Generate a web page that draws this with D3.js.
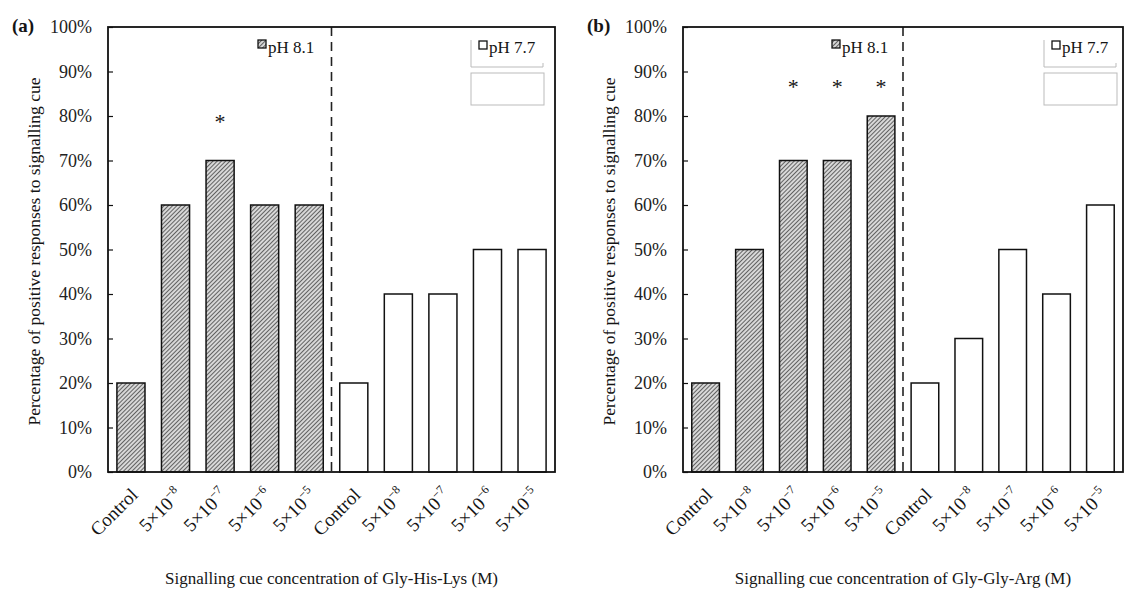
<!DOCTYPE html>
<html><head><meta charset="utf-8">
<script src="https://cdn.jsdelivr.net/npm/d3@7"></script>
<style>body{margin:0;background:#fff}svg{display:block}</style>
</head><body><svg id="c" width="1126" height="595"></svg>
<script>
const concLabels = ["Control", "-8", "-7", "-6", "-5"];
const groups = ["pH 8.1", "pH 7.7"];
const yTicks = [0,10,20,30,40,50,60,70,80,90,100];
const panelA_ph81 = [20, 60, 70, 60, 60];
const panelA_ph77 = [20, 40, 40, 50, 50];
const panelB_ph81 = [20, 50, 70, 70, 80];
const panelB_ph77 = [20, 30, 50, 40, 60];
const panelA_stars = [2];
const panelB_stars = [2, 3, 4];
const panelA_title = "Signalling cue concentration of Gly-His-Lys (M)";
const panelB_title = "Signalling cue concentration of Gly-Gly-Arg (M)";
const yTitle = "Percentage of positive responses to signalling cue";
const FONT = "'Liberation Serif', 'Times New Roman', 'DejaVu Serif', serif";

const svg = d3.select("#c").attr("font-family", FONT);
const defs = svg.append("defs");
const pat = defs.append("pattern").attr("id","hatch").attr("patternUnits","userSpaceOnUse")
  .attr("width",3).attr("height",3).attr("patternTransform","rotate(45)");
pat.append("rect").attr("width",3).attr("height",3).attr("fill","#d8d8d8");
pat.append("line").attr("x1",0).attr("y1",0).attr("x2",0).attr("y2",3).attr("stroke","#222").attr("stroke-width",1.3);

function txt(sel){ return sel.append("text").attr("font-family",FONT).attr("fill","#151515"); }

function panel(opt){
  const {left,right,top,bottom,v81,v77,stars,starY,title,label,legendA,legendB} = opt;
  const g = svg.append("g");
  const cats = [];
  groups.forEach((gr,gi)=>concLabels.forEach((c,ci)=>cats.push(gi+"_"+ci)));
  const vals = v81.concat(v77);
  const x = d3.scaleBand().domain(cats).range([left,right]).paddingInner(0.37).paddingOuter(0.2);
  const y = d3.scaleLinear().domain([0,100]).range([bottom,top]);

  g.selectAll("rect.bar").data(cats).join("rect")
    .attr("x",d=>x(d)).attr("width",x.bandwidth())
    .attr("y",(d,i)=>y(vals[i])).attr("height",(d,i)=>y(0)-y(vals[i]))
    .attr("fill",d=>d.startsWith("0")?"url(#hatch)":"#fff")
    .attr("stroke","#111").attr("stroke-width",1.5);

  const mid = (x(cats[4])+x.bandwidth() + x(cats[5]))/2;
  g.append("line").attr("x1",mid).attr("x2",mid).attr("y1",top).attr("y2",bottom)
    .attr("stroke","#222").attr("stroke-width",1.6).attr("stroke-dasharray","9,6");

  const ya = d3.axisLeft(y).tickValues(yTicks).tickSize(-5).tickPadding(16).tickFormat(d=>d+"%");
  const yg = g.append("g").attr("transform",`translate(${left},0)`).call(ya).attr("font-family",FONT).attr("font-size",18);
  yg.select(".domain").remove();
  yg.selectAll(".tick line").attr("stroke","#111").attr("stroke-width",1.2);
  yg.selectAll(".tick text").attr("fill","#222");

  g.append("rect").attr("x",left).attr("y",top).attr("width",right-left).attr("height",bottom-top)
    .attr("fill","none").attr("stroke","#111").attr("stroke-width",1.8);

  cats.forEach((d,i)=>{
    const ci = i%5;
    const cx = x(d)+x.bandwidth()/2+8;
    const t = txt(g).attr("text-anchor","end").attr("font-size",19)
      .attr("transform",`translate(${cx},${bottom+24}) rotate(-45)`);
    if(concLabels[ci]==="Control"){ t.text("Control"); }
    else {
      t.append("tspan").text("5×10");
      t.append("tspan").text("−"+concLabels[ci].slice(1)).attr("font-size",12).attr("dy",-8);
    }
  });

  stars.forEach(si=>{
    txt(g).attr("x",x(cats[si])+x.bandwidth()/2).attr("y",y(starY)).attr("text-anchor","middle")
      .attr("font-size",22).text("*");
  });

  txt(g).attr("x",(left+right)/2).attr("y",584).attr("text-anchor","middle").attr("font-size",17).text(title);
  txt(g).attr("transform",`translate(${left-68},${(top+bottom)/2+2}) rotate(-90)`).attr("text-anchor","middle").attr("font-size",17.5).text(yTitle);
  txt(g).attr("x",left-96).attr("y",top+5).attr("font-size",19).attr("font-weight","bold").text(label);

  g.append("rect").attr("x",legendA).attr("y",top+13).attr("width",8).attr("height",8)
    .attr("fill","url(#hatch)").attr("stroke","#111").attr("stroke-width",1.3);
  txt(g).attr("x",legendA+10).attr("y",top+26).attr("font-size",17).text(groups[0]);
  const lb = legendB;
  g.append("path").attr("d",`M${lb-8},${top+13} V${top+40} H${lb+64} V${top+36}`).attr("fill","none").attr("stroke","#bbb").attr("stroke-width",1);
  g.append("rect").attr("x",lb-8).attr("y",top+46).attr("width",73).attr("height",32).attr("fill","none").attr("stroke","#bbb").attr("stroke-width",1);
  g.append("rect").attr("x",lb).attr("y",top+14).attr("width",8).attr("height",8)
    .attr("fill","#fff").attr("stroke","#111").attr("stroke-width",1.3);
  txt(g).attr("x",lb+10).attr("y",top+26).attr("font-size",17).text(groups[1]);
}

panel({left:108,right:555,top:27,bottom:472,v81:panelA_ph81,v77:panelA_ph77,stars:panelA_stars,starY:77,
  title:panelA_title,label:"(a)",legendA:258,legendB:479});
panel({left:683,right:1123,top:27,bottom:472,v81:panelB_ph81,v77:panelB_ph77,stars:panelB_stars,starY:85,
  title:panelB_title,label:"(b)",legendA:832,legendB:1052});
</script></body></html>
